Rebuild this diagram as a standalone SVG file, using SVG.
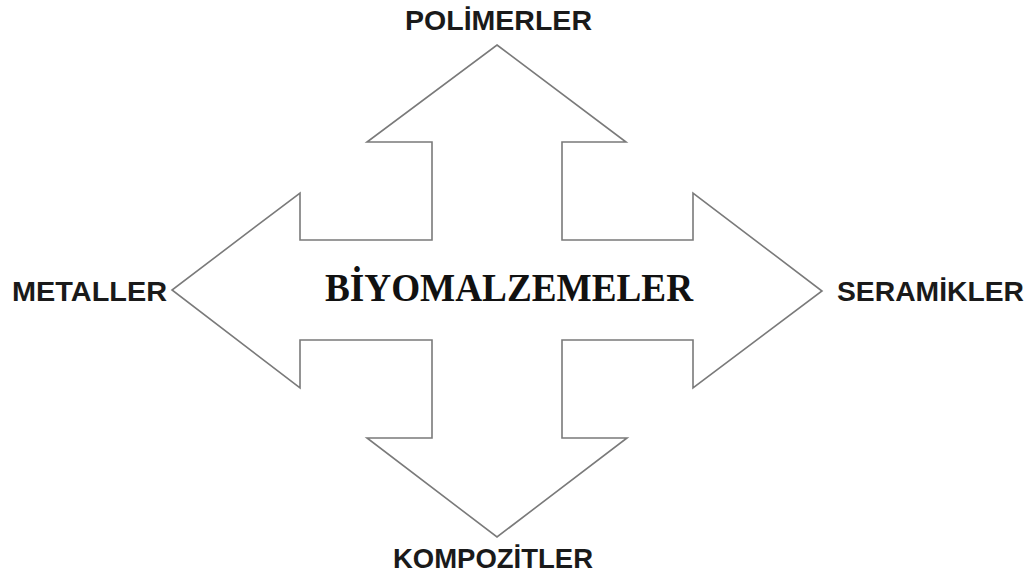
<svg xmlns="http://www.w3.org/2000/svg" width="1034" height="578" viewBox="0 0 1034 578">
<style>
.lbl{font-family:"Liberation Sans",Arial,sans-serif;font-weight:bold;font-size:28px;fill:#1a1a1a}
.title{font-family:"Liberation Serif","Times New Roman",serif;font-weight:bold;font-size:40px;fill:#111}
.arrow{fill:#fff;stroke:#7a7a7a;stroke-width:1.6;stroke-linejoin:miter}
</style>
<rect width="1034" height="578" fill="#fff"/>
<g id="connectors">
<path class="arrow" d="M497,45 L626,142 L562,142 L562,240 L693,240 L693,193 L822,291 L693,388 L693,340 L562,340 L562,438 L627,438 L497,537 L367,438 L432,438 L432,340 L300,340 L300,388 L172,290 L300,193 L300,240 L432,240 L432,142 L367,142 Z"/>
</g>
<g id="center">
<text class="title" x="325" y="301" textLength="368" lengthAdjust="spacingAndGlyphs">BİYOMALZEMELER</text>
</g>
<g id="polimerler">
<text class="lbl" x="405" y="30" textLength="187" lengthAdjust="spacingAndGlyphs">POLİMERLER</text>
</g>
<g id="metaller">
<text class="lbl" x="12" y="301" textLength="155" lengthAdjust="spacingAndGlyphs">METALLER</text>
</g>
<g id="seramikler">
<text class="lbl" x="837" y="301" textLength="187" lengthAdjust="spacingAndGlyphs">SERAMİKLER</text>
</g>
<g id="kompozitler">
<text class="lbl" x="393" y="568" textLength="200" lengthAdjust="spacingAndGlyphs">KOMPOZİTLER</text>
</g>
</svg>
